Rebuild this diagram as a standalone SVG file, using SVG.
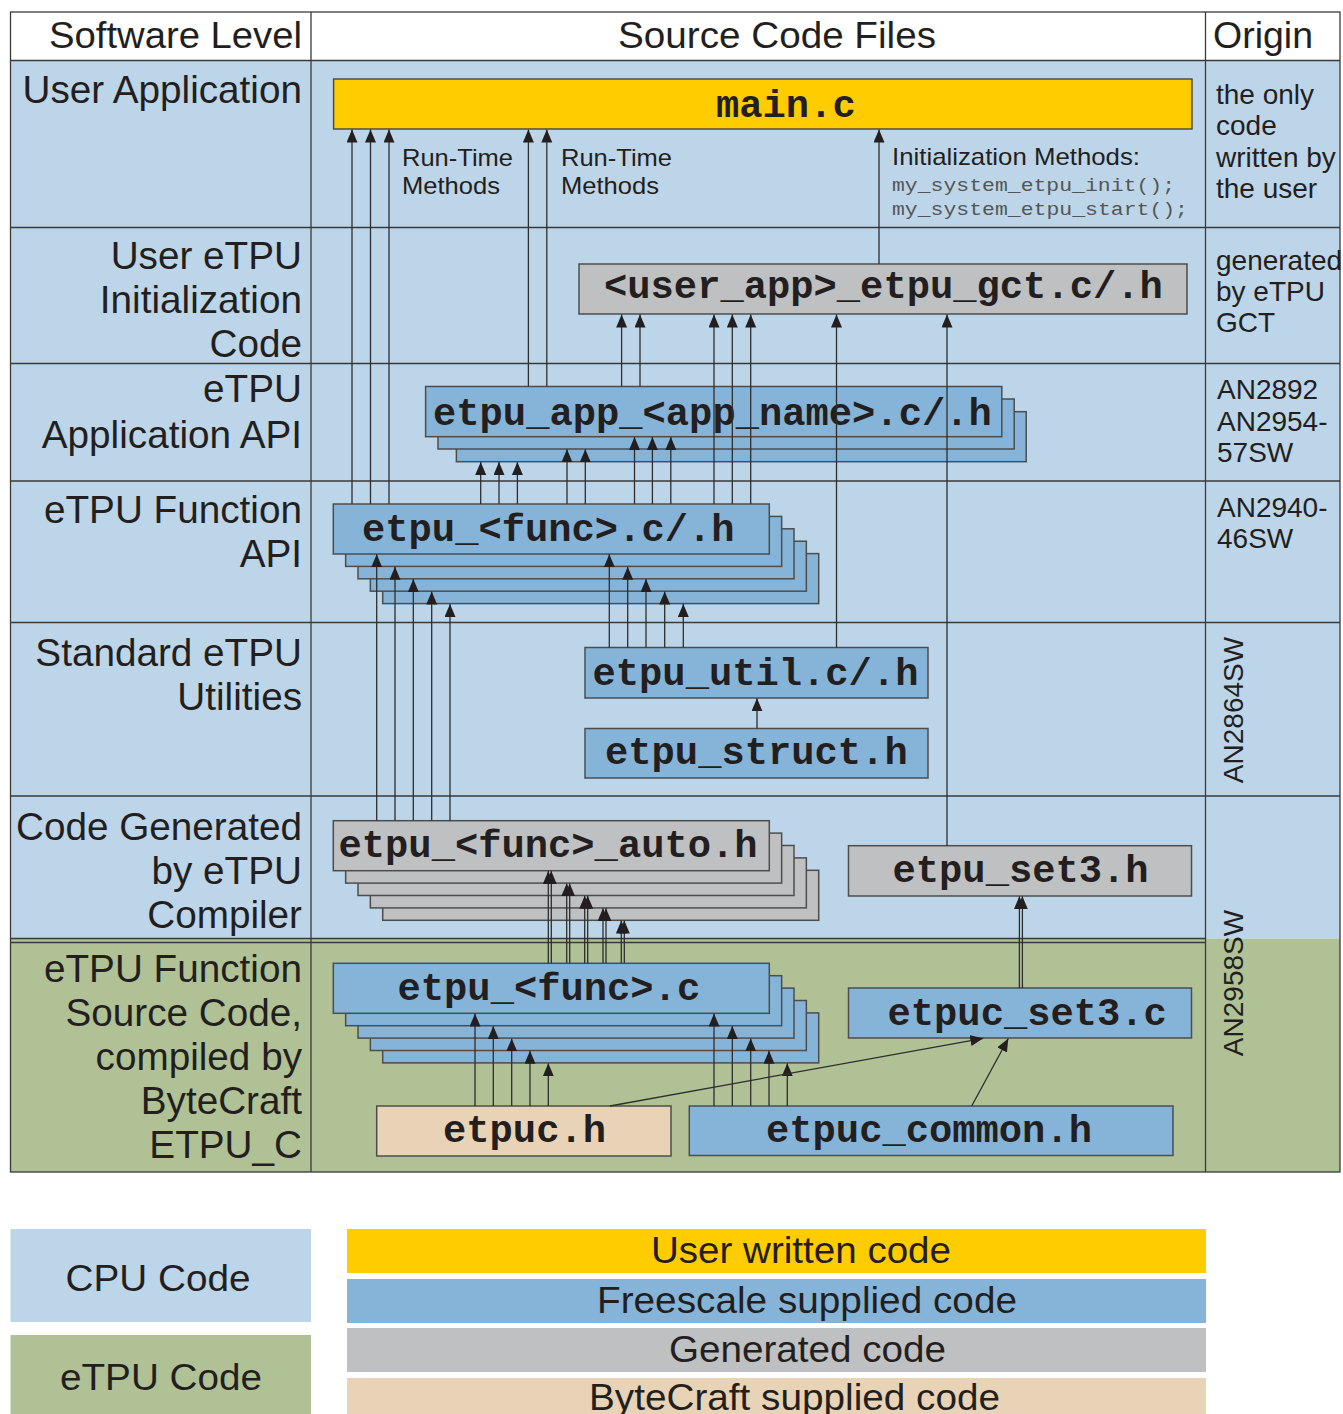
<svg xmlns="http://www.w3.org/2000/svg" width="1343" height="1414" viewBox="0 0 1343 1414">
<style>
.grid{stroke:#3a3a3a;stroke-width:1.3;fill:none}
.box{stroke:#4d4d4d;stroke-width:1.5}
.blue{fill:#85b4d8}
.gray{fill:#bfc0c2}
.yellow{fill:#ffcc00}
.beige{fill:#e8d3b7}
.mono{font-family:"Liberation Mono","Courier New",monospace;font-weight:bold;font-size:38.8px;fill:#231f20}
.lbl{font-family:"Liberation Sans",Arial,sans-serif;font-size:37px;fill:#231f20}
.lv{font-size:38.7px}
.r{text-anchor:end}
.m{text-anchor:middle}
.org{font-family:"Liberation Sans",Arial,sans-serif;font-size:28px;fill:#231f20}
.note{font-family:"Liberation Sans",Arial,sans-serif;font-size:24px;fill:#231f20}
.code{font-family:"Liberation Mono","Courier New",monospace;font-size:19px;fill:#555}
#connectors line{stroke:#2e2e2e;stroke-width:1.3;marker-end:url(#arr)}
</style>
<defs>
<marker id="arr" markerUnits="userSpaceOnUse" markerWidth="14" markerHeight="12" refX="13" refY="5.5" orient="auto" viewBox="0 0 14 12">
<path d="M0,0 L13,5.5 L0,11 z" fill="#231f20"/>
</marker>
</defs>
<rect width="1343" height="1414" fill="#ffffff"/>
<g id="table">
<rect x="10.5" y="12" width="1329.5" height="48.5" fill="#ffffff"/>
<rect x="10.5" y="60.5" width="1329.5" height="878" fill="#bdd5e9"/>
<rect x="10.5" y="938.5" width="1329.5" height="233.5" fill="#b0c195"/>
<line class="grid" x1="10.5" y1="60.5" x2="1340" y2="60.5"/>
<line class="grid" x1="10.5" y1="227.5" x2="1340" y2="227.5"/>
<line class="grid" x1="10.5" y1="363.5" x2="1340" y2="363.5"/>
<line class="grid" x1="10.5" y1="481" x2="1340" y2="481"/>
<line class="grid" x1="10.5" y1="622.5" x2="1340" y2="622.5"/>
<line class="grid" x1="10.5" y1="796" x2="1340" y2="796"/>
<line class="grid" x1="10.5" y1="938.5" x2="1205.5" y2="938.5"/>
<line class="grid" x1="10.5" y1="942.5" x2="1205.5" y2="942.5"/>
<line class="grid" x1="311" y1="12" x2="311" y2="1172"/>
<line class="grid" x1="1205.5" y1="12" x2="1205.5" y2="1172"/>
<rect class="grid" x="10.5" y="12" width="1329.5" height="1160"/>
</g>
<g id="headers">
<text class="lbl r" x="302" y="48" textLength="253" lengthAdjust="spacingAndGlyphs">Software Level</text>
<text class="lbl" x="618" y="48" textLength="318" lengthAdjust="spacingAndGlyphs">Source Code Files</text>
<text class="lbl" x="1213" y="48" textLength="100" lengthAdjust="spacingAndGlyphs">Origin</text>
</g>
<g id="levels">
<text class="lbl lv r" x="302" y="103">User Application</text>
<text class="lbl lv r" x="302" y="269">User eTPU</text>
<text class="lbl lv r" x="302" y="313">Initialization</text>
<text class="lbl lv r" x="302" y="357">Code</text>
<text class="lbl lv r" x="302" y="402">eTPU</text>
<text class="lbl lv r" x="302" y="448">Application API</text>
<text class="lbl lv r" x="302" y="523">eTPU Function</text>
<text class="lbl lv r" x="302" y="567">API</text>
<text class="lbl lv r" x="302" y="666">Standard eTPU</text>
<text class="lbl lv r" x="302" y="710">Utilities</text>
<text class="lbl lv r" x="302" y="840">Code Generated</text>
<text class="lbl lv r" x="302" y="884">by eTPU</text>
<text class="lbl lv r" x="302" y="928">Compiler</text>
<text class="lbl lv r" x="302" y="982">eTPU Function</text>
<text class="lbl lv r" x="302" y="1026">Source Code,</text>
<text class="lbl lv r" x="302" y="1070">compiled by</text>
<text class="lbl lv r" x="302" y="1114">ByteCraft</text>
<text class="lbl lv r" x="302" y="1158">ETPU_C</text>
</g>
<g id="origins">
<text class="org" x="1216" y="104">the only</text>
<text class="org" x="1216" y="135">code</text>
<text class="org" x="1216" y="167">written by</text>
<text class="org" x="1216" y="198">the user</text>
<text class="org" x="1216" y="270">generated</text>
<text class="org" x="1216" y="301">by eTPU</text>
<text class="org" x="1216" y="332">GCT</text>
<text class="org" x="1217" y="399">AN2892</text>
<text class="org" x="1217" y="431">AN2954-</text>
<text class="org" x="1217" y="462">57SW</text>
<text class="org" x="1217" y="517">AN2940-</text>
<text class="org" x="1217" y="548">46SW</text>
<text class="org m" transform="translate(1243,710) rotate(-90)">AN2864SW</text>
<text class="org m" transform="translate(1243,983) rotate(-90)">AN2958SW</text>
</g>
<g id="node-main">
<rect class="box yellow" x="333.6" y="79" width="858.4" height="50"/>
<text class="mono" x="716" y="117">main.c</text>
</g>
<g id="node-gct">
<rect class="box gray" x="579" y="264" width="608" height="50"/>
<text class="mono" x="604" y="298">&lt;user_app&gt;_etpu_gct.c/.h</text>
</g>
<g id="node-app">
<rect class="box blue" x="456.4" y="411.7" width="569.8" height="50"/>
<rect class="box blue" x="438" y="399" width="576.2" height="50"/>
<rect class="box blue" x="425.6" y="386.5" width="576.2" height="50.2"/>
<text class="mono" x="433" y="425">etpu_app_&lt;app_name&gt;.c/.h</text>
</g>
<g id="node-funcapi">
<rect class="box blue" x="382.7" y="553.6" width="436" height="50"/>
<rect class="box blue" x="370.35" y="541.2" width="436" height="50"/>
<rect class="box blue" x="358" y="528.8" width="436" height="50"/>
<rect class="box blue" x="345.65" y="516.4" width="436" height="50"/>
<rect class="box blue" x="333.3" y="504" width="436" height="50"/>
<text class="mono" x="362" y="541">etpu_&lt;func&gt;.c/.h</text>
</g>
<g id="node-util">
<rect class="box blue" x="585" y="647.5" width="343" height="50.5"/>
<text class="mono" x="592.5" y="685">etpu_util.c/.h</text>
</g>
<g id="node-struct">
<rect class="box blue" x="585" y="728.5" width="343" height="49.5"/>
<text class="mono" x="605" y="764">etpu_struct.h</text>
</g>
<g id="node-auto">
<rect class="box gray" x="382.7" y="870.3" width="436" height="50"/>
<rect class="box gray" x="370.35" y="857.9" width="436" height="50"/>
<rect class="box gray" x="358" y="845.5" width="436" height="50"/>
<rect class="box gray" x="345.65" y="833.1" width="436" height="50"/>
<rect class="box gray" x="333.3" y="820.7" width="436" height="50"/>
<text class="mono" x="338.5" y="857">etpu_&lt;func&gt;_auto.h</text>
</g>
<g id="node-set3h">
<rect class="box gray" x="848.5" y="845.7" width="343" height="50.3"/>
<text class="mono" x="892.5" y="881.5">etpu_set3.h</text>
</g>
<g id="node-funcc">
<rect class="box blue" x="382.7" y="1012.9" width="436" height="50"/>
<rect class="box blue" x="370.35" y="1000.5" width="436" height="50"/>
<rect class="box blue" x="358" y="988.1" width="436" height="50"/>
<rect class="box blue" x="345.65" y="975.7" width="436" height="50"/>
<rect class="box blue" x="333.3" y="963.3" width="436" height="50"/>
<text class="mono" x="397.5" y="1000">etpu_&lt;func&gt;.c</text>
</g>
<g id="node-set3c">
<rect class="box blue" x="848.5" y="988" width="343" height="50"/>
<text class="mono" x="887.5" y="1024.5">etpuc_set3.c</text>
</g>
<g id="node-etpuch">
<rect class="box beige" x="376.7" y="1106" width="294.3" height="50"/>
<text class="mono" x="443" y="1142">etpuc.h</text>
</g>
<g id="node-common">
<rect class="box blue" x="689.3" y="1106" width="483.7" height="49.5"/>
<text class="mono" x="766" y="1141.5">etpuc_common.h</text>
</g>
<g id="connectors">
<line x1="352" y1="504" x2="352" y2="129.5"/>
<line x1="370.5" y1="504" x2="370.5" y2="129.5"/>
<line x1="389" y1="504" x2="389" y2="129.5"/>
<line x1="528.4" y1="386.5" x2="528.4" y2="129.5"/>
<line x1="546.8" y1="386.5" x2="546.8" y2="129.5"/>
<line x1="879" y1="264" x2="879" y2="129.5"/>
<line x1="621.6" y1="386.5" x2="621.6" y2="314.5"/>
<line x1="640" y1="386.5" x2="640" y2="314.5"/>
<line x1="714" y1="504" x2="714" y2="314.5"/>
<line x1="732.3" y1="504" x2="732.3" y2="314.5"/>
<line x1="750.7" y1="504" x2="750.7" y2="314.5"/>
<line x1="836.5" y1="647.5" x2="836.5" y2="314.5"/>
<line x1="947" y1="845.7" x2="947" y2="314.5"/>
<line x1="480.7" y1="504" x2="480.7" y2="462"/>
<line x1="499" y1="504" x2="499" y2="462"/>
<line x1="517.4" y1="504" x2="517.4" y2="462"/>
<line x1="567" y1="504" x2="567" y2="449.3"/>
<line x1="585.3" y1="504" x2="585.3" y2="449.3"/>
<line x1="634.5" y1="504" x2="634.5" y2="437"/>
<line x1="652.4" y1="504" x2="652.4" y2="437"/>
<line x1="670.8" y1="504" x2="670.8" y2="437"/>
<line x1="376.7" y1="820.7" x2="376.7" y2="554.3"/>
<line x1="395" y1="820.7" x2="395" y2="566.7"/>
<line x1="413.3" y1="820.7" x2="413.3" y2="579.1"/>
<line x1="431.7" y1="820.7" x2="431.7" y2="591.5"/>
<line x1="450" y1="820.7" x2="450" y2="603.9"/>
<line x1="609.3" y1="647.5" x2="609.3" y2="554.3"/>
<line x1="627.7" y1="647.5" x2="627.7" y2="566.7"/>
<line x1="646" y1="647.5" x2="646" y2="579.1"/>
<line x1="664.7" y1="647.5" x2="664.7" y2="591.5"/>
<line x1="683.3" y1="647.5" x2="683.3" y2="603.9"/>
<line x1="757" y1="728.5" x2="757" y2="698.3"/>
<line x1="548.3" y1="963.3" x2="548.3" y2="871"/>
<line x1="551.3" y1="963.3" x2="551.3" y2="871"/>
<line x1="566.7" y1="963.3" x2="566.7" y2="883.4"/>
<line x1="569.7" y1="963.3" x2="569.7" y2="883.4"/>
<line x1="584.7" y1="963.3" x2="584.7" y2="895.8"/>
<line x1="587.7" y1="963.3" x2="587.7" y2="895.8"/>
<line x1="603" y1="963.3" x2="603" y2="908.2"/>
<line x1="606" y1="963.3" x2="606" y2="908.2"/>
<line x1="621.3" y1="963.3" x2="621.3" y2="920.6"/>
<line x1="624.3" y1="963.3" x2="624.3" y2="920.6"/>
<line x1="1019.4" y1="988" x2="1019.4" y2="896.3"/>
<line x1="1022.4" y1="988" x2="1022.4" y2="896.3"/>
<line x1="475" y1="1106" x2="475" y2="1013.6"/>
<line x1="493.3" y1="1106" x2="493.3" y2="1026"/>
<line x1="511.7" y1="1106" x2="511.7" y2="1038.4"/>
<line x1="530" y1="1106" x2="530" y2="1050.8"/>
<line x1="548.3" y1="1106" x2="548.3" y2="1063.2"/>
<line x1="714" y1="1106" x2="714" y2="1013.6"/>
<line x1="732.3" y1="1106" x2="732.3" y2="1026"/>
<line x1="750.7" y1="1106" x2="750.7" y2="1038.4"/>
<line x1="769" y1="1106" x2="769" y2="1050.8"/>
<line x1="787.3" y1="1106" x2="787.3" y2="1063.2"/>
<line x1="610" y1="1106" x2="983.3" y2="1038.3"/>
<line x1="971.7" y1="1106" x2="1008.3" y2="1038.5"/>
</g>
<g id="annotations">
<text class="note" x="402" y="166" textLength="111" lengthAdjust="spacingAndGlyphs">Run-Time</text>
<text class="note" x="402" y="194" textLength="98" lengthAdjust="spacingAndGlyphs">Methods</text>
<text class="note" x="561" y="166" textLength="111" lengthAdjust="spacingAndGlyphs">Run-Time</text>
<text class="note" x="561" y="194" textLength="98" lengthAdjust="spacingAndGlyphs">Methods</text>
<text class="note" x="892" y="165" textLength="248" lengthAdjust="spacingAndGlyphs">Initialization Methods:</text>
<text class="code" x="892" y="191" textLength="283" lengthAdjust="spacingAndGlyphs">my_system_etpu_init();</text>
<text class="code" x="892" y="215" textLength="296" lengthAdjust="spacingAndGlyphs">my_system_etpu_start();</text>
</g>
<g id="legend">
<rect x="10.5" y="1229" width="300.5" height="93" fill="#bdd5e9"/>
<text class="lbl m" x="158" y="1291" textLength="185" lengthAdjust="spacingAndGlyphs">CPU Code</text>
<rect x="10.5" y="1335" width="300.5" height="79" fill="#b0c195"/>
<text class="lbl m" x="161" y="1390" textLength="202" lengthAdjust="spacingAndGlyphs">eTPU Code</text>
<rect x="347" y="1229" width="859" height="44" fill="#ffcc00"/>
<text class="lbl m" x="801" y="1263" textLength="300" lengthAdjust="spacingAndGlyphs">User written code</text>
<rect x="347" y="1279" width="859" height="44" fill="#85b4d8"/>
<text class="lbl m" x="807" y="1313" textLength="420" lengthAdjust="spacingAndGlyphs">Freescale supplied code</text>
<rect x="347" y="1328" width="859" height="44" fill="#bfc0c2"/>
<text class="lbl m" x="807.5" y="1362" textLength="277" lengthAdjust="spacingAndGlyphs">Generated code</text>
<rect x="347" y="1378" width="859" height="36" fill="#e8d3b7"/>
<text class="lbl m" x="794.5" y="1410" textLength="411" lengthAdjust="spacingAndGlyphs">ByteCraft supplied code</text>
</g>
</svg>
